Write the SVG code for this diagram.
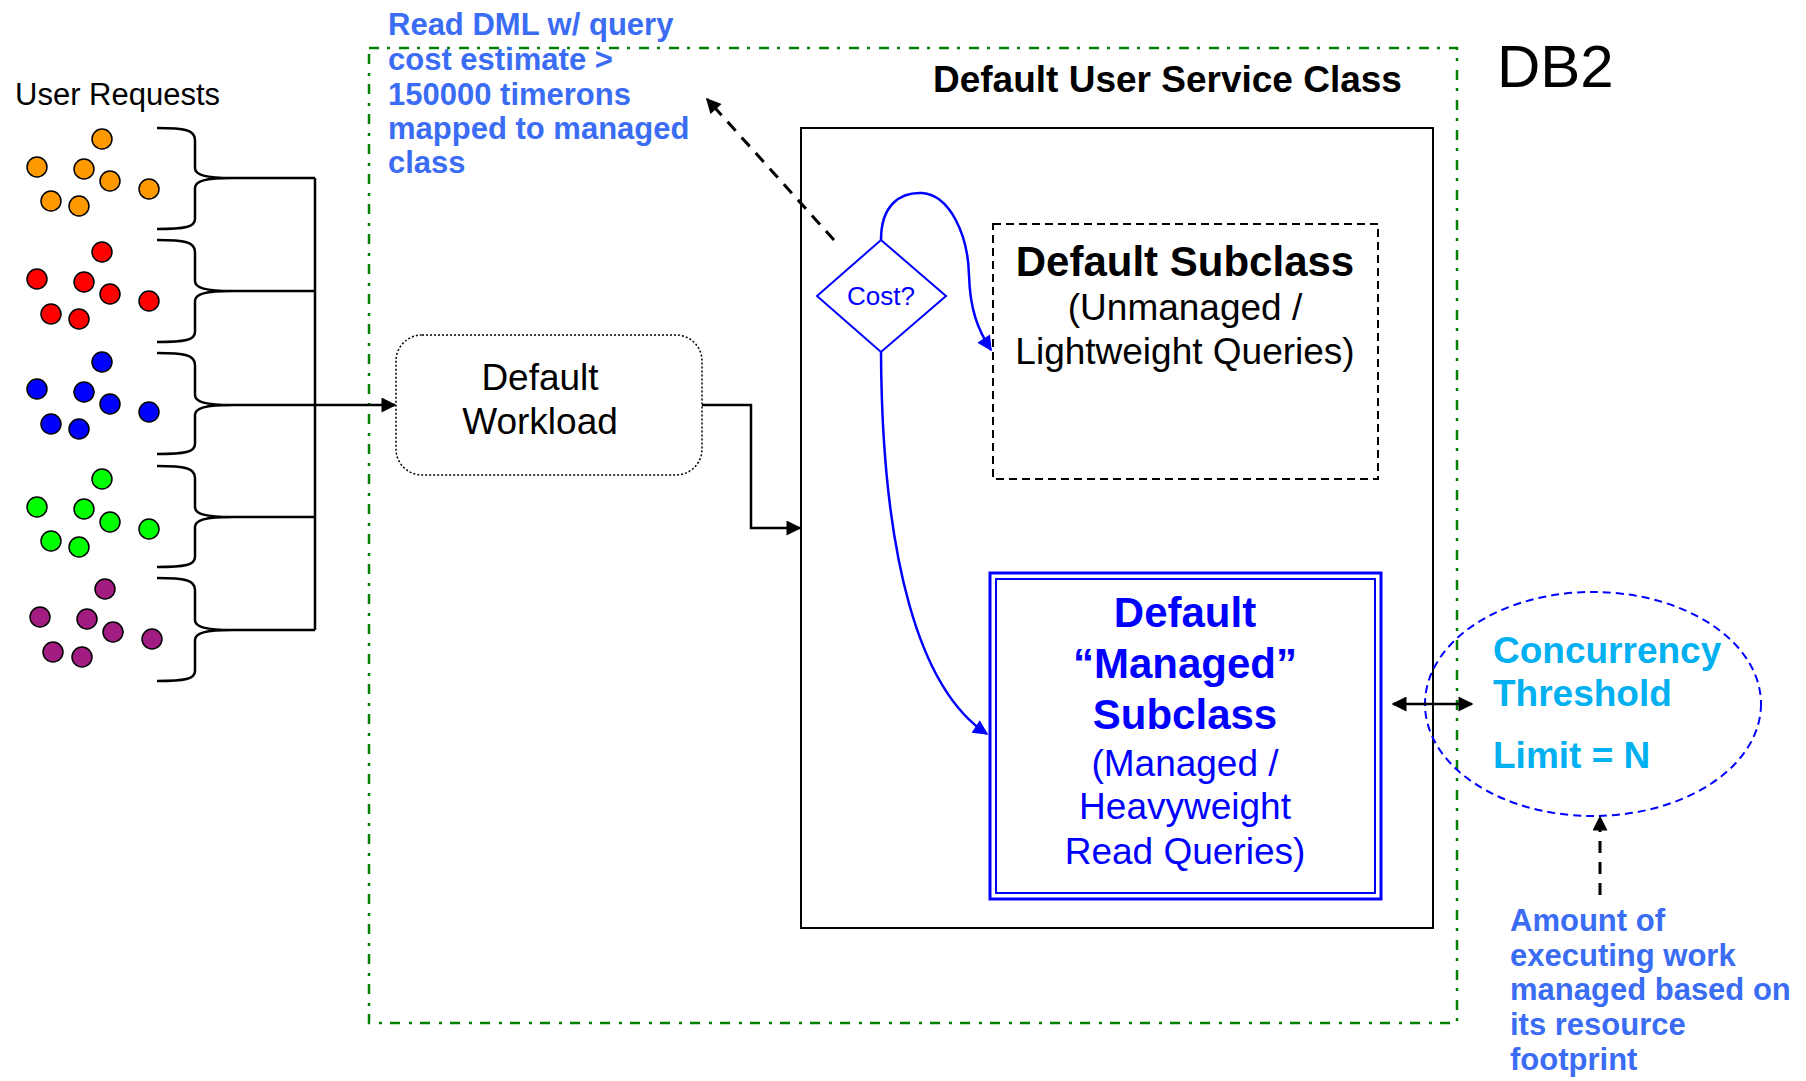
<svg xmlns="http://www.w3.org/2000/svg" width="1806" height="1081" viewBox="0 0 1806 1081">
<style>
.t{font-family:"Liberation Sans",Arial,sans-serif;}
.b{font-weight:bold;}
.c{font-family:"Liberation Sans",Arial,sans-serif;font-weight:bold;font-size:31px;fill:#3B6CF4;}
.dot{stroke:#000;stroke-width:1.5;}
.o{fill:#FF9900;}.r{fill:#FF0000;}.bl{fill:#0000FF;}.g{fill:#00FF00;}.p{fill:#A21C82;}
.ln{fill:none;stroke:#000;stroke-width:2.5;}
.bc{fill:none;stroke:#0000FF;stroke-width:2.5;}
.dash{stroke-width:3;stroke-dasharray:12 9;}
</style>
<defs>
<marker id="ak" viewBox="0 0 10 10" refX="9" refY="5" markerWidth="17" markerHeight="15" markerUnits="userSpaceOnUse" orient="auto-start-reverse"><path d="M0,0 L10,5 L0,10 z" fill="#000"/></marker>
<marker id="ab" viewBox="0 0 10 10" refX="9" refY="5" markerWidth="17" markerHeight="15" markerUnits="userSpaceOnUse" orient="auto"><path d="M0,0 L10,5 L0,10 z" fill="#0000FF"/></marker>
</defs>
<rect width="1806" height="1081" fill="#fff"/>

<g id="db2-boundary">
<rect x="369" y="48" width="1088" height="975" fill="none" stroke="#008000" stroke-width="2.5" stroke-dasharray="10 8 3 9"/>
</g>
<text class="t" x="1497" y="87" font-size="60">DB2</text>

<g id="user-requests">
<text class="t" x="15" y="105" font-size="31">User Requests</text>
<g id="orange">
<circle class="dot o" cx="102" cy="139" r="10"/><circle class="dot o" cx="37" cy="167" r="10"/><circle class="dot o" cx="84" cy="169" r="10"/><circle class="dot o" cx="110" cy="181" r="10"/><circle class="dot o" cx="149" cy="189" r="10"/><circle class="dot o" cx="51" cy="201" r="10"/><circle class="dot o" cx="79" cy="206" r="10"/>
</g>
<g id="red">
<circle class="dot r" cx="102" cy="252" r="10"/><circle class="dot r" cx="37" cy="279" r="10"/><circle class="dot r" cx="84" cy="282" r="10"/><circle class="dot r" cx="110" cy="294" r="10"/><circle class="dot r" cx="149" cy="301" r="10"/><circle class="dot r" cx="51" cy="314" r="10"/><circle class="dot r" cx="79" cy="319" r="10"/>
</g>
<g id="blue">
<circle class="dot bl" cx="102" cy="362" r="10"/><circle class="dot bl" cx="37" cy="389" r="10"/><circle class="dot bl" cx="84" cy="392" r="10"/><circle class="dot bl" cx="110" cy="404" r="10"/><circle class="dot bl" cx="149" cy="412" r="10"/><circle class="dot bl" cx="51" cy="424" r="10"/><circle class="dot bl" cx="79" cy="429" r="10"/>
</g>
<g id="green">
<circle class="dot g" cx="102" cy="479" r="10"/><circle class="dot g" cx="37" cy="507" r="10"/><circle class="dot g" cx="84" cy="509" r="10"/><circle class="dot g" cx="110" cy="522" r="10"/><circle class="dot g" cx="149" cy="529" r="10"/><circle class="dot g" cx="51" cy="541" r="10"/><circle class="dot g" cx="79" cy="547" r="10"/>
</g>
<g id="purple">
<circle class="dot p" cx="105" cy="589" r="10"/><circle class="dot p" cx="40" cy="617" r="10"/><circle class="dot p" cx="87" cy="619" r="10"/><circle class="dot p" cx="113" cy="632" r="10"/><circle class="dot p" cx="152" cy="639" r="10"/><circle class="dot p" cx="53" cy="652" r="10"/><circle class="dot p" cx="82" cy="657" r="10"/>
</g>
<g id="braces" class="ln">
<path d="M157,128 C185,128 195,130 195,140 L195,168 C195,175 205,178 233,178 C205,178 195,181 195,188 L195,219 C195,227 185,229 157,229"/>
<path d="M157,240 C185,240 195,242 195,252 L195,281 C195,288 205,291 233,291 C205,291 195,294 195,301 L195,332 C195,340 185,342 157,342"/>
<path d="M157,353 C185,353 195,355 195,365 L195,395 C195,402 205,405 233,405 C205,405 195,408 195,415 L195,444 C195,452 185,454 157,454"/>
<path d="M157,466 C185,466 195,468 195,478 L195,507 C195,514 205,517 233,517 C205,517 195,520 195,527 L195,557 C195,565 185,567 157,567"/>
<path d="M157,578 C185,578 195,580 195,590 L195,620 C195,627 205,630 233,630 C205,630 195,633 195,640 L195,671 C195,679 185,681 157,681"/>
</g>
</g>

<g id="default-workload">
<rect x="396" y="335" width="306" height="140" rx="26" fill="#fff" stroke="#000" stroke-width="1.5" stroke-dasharray="2 2"/>
<text class="t" font-size="37" text-anchor="middle"><tspan x="540" y="390">Default</tspan><tspan x="540" y="434">Workload</tspan></text>
</g>

<g id="service-class">
<rect x="801" y="128" width="632" height="800" fill="none" stroke="#000" stroke-width="2"/>
<text class="t b" x="933" y="92" font-size="37">Default User Service Class</text>
</g>

<g id="cost-decision">
<polygon points="881,240 946,296 881,352 817,296" fill="#fff" stroke="#0000FF" stroke-width="2"/>
<text class="t" x="881" y="305" font-size="26" text-anchor="middle" fill="#0000FF">Cost?</text>
</g>

<g id="default-subclass">
<rect x="993" y="224" width="385" height="255" fill="none" stroke="#000" stroke-width="2" stroke-dasharray="8 5"/>
<text class="t b" x="1185" y="276" font-size="42" text-anchor="middle">Default Subclass</text>
<text class="t" font-size="37" text-anchor="middle"><tspan x="1185" y="320">(Unmanaged /</tspan><tspan x="1185" y="364">Lightweight Queries)</tspan></text>
</g>

<g id="managed-subclass">
<rect x="990" y="573" width="391" height="326" fill="none" stroke="#0000FF" stroke-width="3"/>
<rect x="996" y="579" width="379" height="314" fill="none" stroke="#0000FF" stroke-width="2"/>
<text class="t b" font-size="42" text-anchor="middle" fill="#0000FF"><tspan x="1185" y="627">Default</tspan><tspan x="1185" y="678">“Managed”</tspan><tspan x="1185" y="729">Subclass</tspan></text>
<text class="t" font-size="37" text-anchor="middle" fill="#0000FF"><tspan x="1185" y="776">(Managed /</tspan><tspan x="1185" y="819">Heavyweight</tspan><tspan x="1185" y="864">Read Queries)</tspan></text>
</g>

<g id="concurrency-threshold">
<ellipse cx="1593" cy="704" rx="168" ry="112" fill="none" stroke="#0000FF" stroke-width="2" stroke-dasharray="8 5"/>
<text class="t b" font-size="37" fill="#00B0F0"><tspan x="1493" y="663">Concurrency</tspan><tspan x="1493" y="706">Threshold</tspan><tspan x="1493" y="768">Limit = N</tspan></text>
</g>

<g id="note-cost">
<text class="c"><tspan x="388" y="35">Read DML w/ query</tspan><tspan x="388" y="70">cost estimate &gt;</tspan><tspan x="388" y="105">150000 timerons</tspan><tspan x="388" y="139">mapped to managed</tspan><tspan x="388" y="173">class</tspan></text>
</g>

<g id="note-amount">
<text class="c"><tspan x="1510" y="931">Amount of</tspan><tspan x="1510" y="966">executing work</tspan><tspan x="1510" y="1000">managed based on</tspan><tspan x="1510" y="1035">its resource</tspan><tspan x="1510" y="1070">footprint</tspan></text>
</g>

<g id="connectors">
<path class="ln" stroke-width="3" d="M315,178 V630"/>
<path class="ln" d="M233,178 H315 M233,291 H315 M233,517 H315 M233,630 H315"/>
<path class="ln" stroke-width="3" d="M233,405 H395" marker-end="url(#ak)"/>
<path class="ln" d="M702,405 H751 V528 H800" marker-end="url(#ak)"/>
<path class="bc" d="M881,240 C881,205 900,192 922,193 C950,195 968,235 969,275 C970,310 978,330 991,350" marker-end="url(#ab)"/>
<path class="bc" d="M881,352 C882,560 920,690 987,734" marker-end="url(#ab)"/>
<path class="ln" stroke-width="3" d="M1393,704 H1472" marker-start="url(#ak)" marker-end="url(#ak)"/>
<path class="ln dash" d="M1600,895 V817" marker-end="url(#ak)"/>
<path class="ln dash" d="M834,240 L707,99" marker-end="url(#ak)"/>
</g>
</svg>
